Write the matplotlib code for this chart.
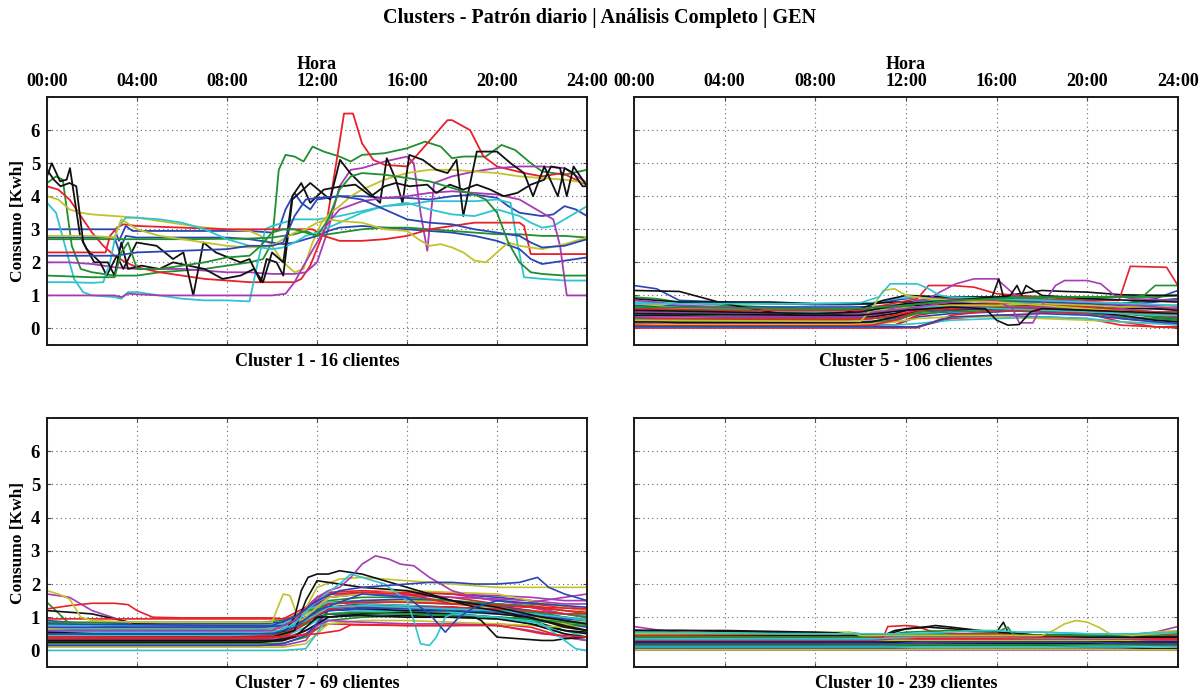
import matplotlib
matplotlib.use('Agg')
import matplotlib.pyplot as plt

plt.rcParams['font.family'] = ['Liberation Serif', 'DejaVu Serif']
plt.rcParams['font.weight'] = 'bold'

# line colours, cycled the old b g r c m y k way
COLORS = ['#2b45b5', '#1f8f2f', '#e8202a', '#2ec4d0', '#a83bb5', '#c2c22a', '#111111']
NAMED = {'b': COLORS[0], 'g': COLORS[1], 'r': COLORS[2], 'c': COLORS[3],
         'm': COLORS[4], 'y': COLORS[5], 'k': COLORS[6]}

title_text = u"Clusters - Patrón diario | Análisis Completo | GEN"
hour_ticks = [0, 4, 8, 12, 16, 20, 24]
hour_labels = ['00:00', '04:00', '08:00', '12:00', '16:00', '20:00', '24:00']
kwh_ticks = [0, 1, 2, 3, 4, 5, 6]
cluster_names = ['Cluster 1 - 16 clientes', 'Cluster 5 - 106 clientes',
                 'Cluster 7 - 69 clientes', 'Cluster 10 - 239 clientes']

# ---------------- Cluster 1 : (horas, consumo) por cliente ----------------
c1_lines = [
  ([0, 2, 3, 3.2, 3.5, 3.8, 6, 8, 9, 10, 10.3, 10.6, 11, 11.3, 11.7, 12, 13, 14, 15, 16, 17, 18, 19, 20, 20.5, 21, 22, 22.5, 23, 23.5, 24],
   [3.0, 3.0, 3.0, 2.65, 3.1, 2.95, 2.95, 2.95, 2.95, 2.9, 3.0, 3.6, 4.1, 3.8, 3.6, 3.9, 4.0, 4.0, 3.95, 3.95, 3.9, 4.0, 4.05, 3.95, 3.7, 3.5, 3.4, 3.45, 3.7, 3.6, 3.4]),
  ([0, 0.4, 0.7, 1.1, 1.5, 2, 3, 4, 5, 6, 7, 8, 9, 9.6, 10.0, 10.3, 10.6, 11, 11.4, 11.8, 12.3, 13, 13.5, 14, 15, 16, 16.8, 17.5, 18, 18.5, 19.5, 20.2, 20.8, 21.5, 22, 23, 24],
   [4.4, 4.6, 4.5, 2.5, 1.8, 1.7, 1.6, 1.6, 1.7, 1.75, 1.8, 1.9, 2.0, 2.1, 2.6, 4.8, 5.25, 5.2, 5.05, 5.5, 5.35, 5.2, 5.05, 5.25, 5.3, 5.45, 5.65, 5.5, 5.15, 5.2, 5.2, 5.55, 5.4, 5.0, 4.75, 4.65, 4.8]),
  ([0, 0.5, 1, 1.5, 2, 2.5, 3, 3.5, 4, 5, 6, 7, 8, 9, 10, 11, 11.3, 11.7, 12.4, 12.9, 13.2, 13.6, 14.0, 14.5, 15, 16, 16.9, 17.8, 18.0, 18.8, 19.4, 20.0, 21.2, 22, 22.9, 23.8, 24],
   [4.3, 4.2, 3.9, 3.4, 2.9, 2.5, 2.2, 2.0, 1.85, 1.7, 1.6, 1.5, 1.45, 1.4, 1.4, 1.4, 1.5, 1.9, 3.1, 5.2, 6.5, 6.5, 5.6, 5.1, 4.95, 4.9, 5.6, 6.3, 6.3, 6.0, 5.2, 4.9, 4.7, 4.6, 4.7, 4.4, 4.35]),
  ([0, 0.4, 0.8, 1.2, 1.6, 2, 3, 3.3, 3.6, 4, 5, 6, 7, 8, 9.0, 9.3, 9.7, 10, 11, 12, 13, 14, 15, 16, 17, 18, 19, 20, 20.6, 20.9, 21.2, 22, 23, 24],
   [3.8, 3.5, 2.5, 1.5, 1.1, 1.0, 0.95, 0.9, 1.1, 1.1, 1.0, 0.9, 0.85, 0.85, 0.82, 1.8, 3.0, 3.1, 3.3, 3.3, 3.4, 3.55, 3.7, 3.75, 3.85, 3.85, 3.85, 3.9, 3.8, 2.6, 1.55, 1.5, 1.45, 1.45]),
  ([0, 1, 2, 3, 4, 5, 6, 7, 8, 9, 10, 11, 11.5, 12, 12.5, 13, 13.5, 14, 15, 16, 16.3, 16.6, 16.9, 17.2, 17.6, 18, 19, 20, 21, 22, 23, 24],
   [2.0, 2.0, 1.95, 1.85, 1.8, 1.8, 1.8, 1.75, 1.7, 1.7, 1.65, 1.65, 1.7, 2.0, 3.0, 4.3, 4.8, 4.85, 5.05, 5.2, 5.0, 3.5, 2.35, 4.4, 4.5, 4.6, 4.75, 4.85, 4.9, 4.9, 4.85, 4.4]),
  ([0, 0.5, 1, 1.5, 2, 3, 4, 5, 6, 7, 8, 9, 9.5, 10, 10.5, 11, 11.4, 11.8, 12.2, 12.6, 13, 13.5, 14, 15, 16, 17, 18, 19, 20, 21, 22, 23, 24],
   [4.0, 3.9, 3.6, 3.5, 3.45, 3.4, 3.35, 3.25, 3.15, 3.05, 3.0, 2.95, 2.8, 2.5, 2.0, 1.7, 1.8, 2.6, 3.2, 3.5, 3.7, 4.0, 4.2, 4.5, 4.7, 4.8, 4.8, 4.75, 4.7, 4.6, 4.55, 4.5, 4.4]),
  ([0, 0.21, 0.58, 0.87, 1.02, 1.47, 1.76, 2.36, 2.65, 3.1, 3.39, 3.98, 4.87, 5.6, 6.06, 6.5, 6.95, 7.5, 8.6, 9.0, 9.5, 9.76, 10.2, 10.5, 10.9, 11.7, 12.58, 13.02, 13.47, 14.5, 14.8, 15.1, 15.5, 15.8, 16.1, 16.7, 17.3, 17.8, 18.2, 18.5, 19.1, 20.0, 20.6, 21.2, 21.6, 22.1, 22.7, 23.0, 23.4, 23.8, 24],
   [4.6, 5.0, 4.45, 4.5, 4.85, 2.8, 2.4, 2.0, 1.6, 2.2, 1.8, 2.6, 2.5, 2.1, 2.3, 1.0, 2.6, 2.3, 2.0, 2.1, 1.4, 2.1, 2.0, 1.6, 3.9, 4.4, 3.9, 5.1, 4.7, 4.0, 3.8, 5.15, 4.5, 3.8, 5.25, 5.1, 4.8, 4.7, 5.1, 3.4, 5.35, 5.35, 5.0, 4.7, 4.0, 4.9, 4.0, 4.85, 4.7, 4.3, 4.3]),
  ([0, 3, 3.2, 3.5, 4, 6, 8, 9, 10, 10.5, 11, 11.5, 12, 12.5, 13, 14, 15, 16, 17, 18, 19, 20, 21, 21.5, 22, 23, 24],
   [2.75, 2.75, 2.35, 2.8, 2.75, 2.75, 2.75, 2.7, 2.6, 2.55, 2.6, 2.7, 2.8, 2.95, 3.05, 3.1, 3.05, 3.0, 2.95, 2.9, 2.8, 2.65, 2.4, 2.1, 1.95, 2.05, 2.15]),
  ([0, 3, 6, 9, 10, 11, 11.5, 12, 13, 14, 15, 16, 17, 18, 19, 20, 21, 22, 23, 24],
   [2.7, 2.7, 2.7, 2.72, 2.75, 2.85, 2.95, 2.8, 2.9, 3.0, 3.05, 3.05, 3.0, 2.95, 2.9, 2.85, 2.85, 2.8, 2.8, 2.75]),
  ([0, 2.6, 2.8, 3.1, 3.4, 4, 6, 8, 10, 11, 11.8, 12.3, 13, 14, 15, 16, 16.5, 17, 18, 19, 20, 21, 21.2, 21.5, 24],
   [2.3, 2.3, 2.8, 3.05, 3.15, 3.1, 3.05, 3.0, 3.0, 3.0, 3.0, 2.8, 2.65, 2.65, 2.7, 2.8, 2.9, 3.0, 3.1, 3.2, 3.2, 3.2, 3.1, 2.25, 2.25]),
  ([0, 1, 2, 2.5, 2.8, 3.1, 3.5, 4, 5, 6, 7, 8, 9, 10, 10.5, 11, 11.5, 12, 13, 14, 15, 16, 17, 18, 19, 20, 21, 21.5, 22, 22.5, 23, 24],
   [1.4, 1.4, 1.38, 1.4, 2.0, 3.0, 3.35, 3.35, 3.3, 3.2, 3.0, 2.7, 2.5, 2.4, 2.45, 2.6, 2.8, 2.9, 3.2, 3.5, 3.7, 3.8, 3.6, 3.45, 3.4, 3.6, 3.4, 3.2, 3.05, 3.1, 3.3, 3.7]),
  ([0, 3, 3.3, 3.6, 5, 8, 10, 10.6, 11, 11.4, 12, 12.5, 13, 14, 15, 16, 17, 18, 19, 20, 21, 21.5, 22, 22.5, 22.8, 23.1, 24],
   [1.0, 1.0, 0.95, 1.05, 1.0, 1.0, 1.0, 1.05, 1.4, 1.9, 2.6, 3.2, 3.6, 3.85, 3.95, 4.0, 4.1, 4.15, 4.1, 4.05, 3.9, 3.7, 3.5, 3.3, 2.5, 1.0, 1.0]),
  ([0, 2, 3, 3.3, 4, 5, 6, 7, 8, 9, 10, 10.5, 11, 11.5, 12, 12.5, 13, 14, 15, 16, 16.5, 17, 17.5, 18, 18.5, 19, 19.5, 20, 20.5, 21, 22, 23, 24],
   [2.8, 2.8, 2.75, 3.3, 3.0, 2.8, 2.7, 2.6, 2.5, 2.45, 2.5, 2.7, 2.9, 3.0, 3.2, 3.3, 3.25, 3.2, 3.0, 2.95, 2.7, 2.5, 2.55, 2.45, 2.3, 2.05, 2.0, 2.3, 2.6, 2.5, 2.4, 2.55, 2.75]),
  ([0, 0.3, 0.6, 1.0, 1.3, 1.61, 2.1, 2.7, 3.0, 3.3, 3.6, 4.2, 5.0, 5.6, 7.0, 7.8, 8.6, 9.2, 9.6, 10.0, 10.5, 10.9, 11.3, 11.7, 12.3, 13.1, 13.7, 14.4, 15.0, 15.5, 16.1, 16.9, 17.3, 17.9, 18.5, 19.1, 19.7, 20.3, 20.9, 21.5, 22.1, 22.4, 22.8, 23.1, 23.4, 23.8, 24],
   [4.8, 4.5, 4.3, 4.4, 4.3, 2.6, 2.0, 2.0, 1.6, 2.6, 1.8, 1.9, 1.8, 2.0, 1.8, 1.5, 1.6, 1.8, 1.4, 2.3, 2.0, 4.0, 4.4, 3.8, 4.2, 4.3, 4.35, 4.0, 4.3, 4.4, 4.3, 4.35, 4.1, 4.35, 4.2, 4.35, 4.2, 4.0, 4.1, 4.35, 4.5, 4.9, 4.85, 4.0, 4.9, 4.5, 4.3]),
  ([0, 3, 4, 6, 8, 9, 10, 10.5, 11, 11.5, 12, 13, 14, 15, 16, 17, 18, 19, 20, 21, 21.5, 22, 23, 24],
   [2.2, 2.2, 2.3, 2.35, 2.4, 2.5, 2.5, 2.6, 3.4, 3.9, 3.95, 4.0, 3.9, 3.6, 3.3, 3.2, 3.15, 3.0, 2.9, 2.8, 2.6, 2.45, 2.5, 2.7]),
  ([0, 2, 3, 3.3, 3.6, 4, 5, 6, 7, 8, 9, 9.5, 10, 10.5, 11, 11.5, 12, 12.5, 13, 13.5, 14, 15, 16, 17, 18, 19, 19.5, 20, 20.5, 21, 21.5, 22, 23, 24],
   [1.6, 1.55, 1.55, 2.3, 2.6, 1.8, 1.8, 1.9, 2.0, 2.15, 2.2, 2.5, 2.9, 3.0, 3.0, 2.9, 2.8, 3.3, 4.2, 4.6, 4.7, 4.65, 4.55, 4.45, 4.25, 4.05, 3.9, 3.5, 2.6, 2.0, 1.7, 1.65, 1.6, 1.6]),
]

# common hour grid for the crowded clusters
HOURS = [0, 1, 2, 4, 6, 8, 9.5, 10.5, 11.5, 12.5, 14, 16, 18, 20, 21.5, 23, 24]

# ---------------- Cluster 5 ----------------
c5_lines = [
  [1.3, 1.2, 0.85, 0.8, 0.75, 0.72, 0.72, 0.75, 0.85, 0.95, 0.9, 0.95, 0.85, 0.8, 0.75, 0.9, 1.15],
  [0.95, 0.9, 0.8, 0.7, 0.65, 0.6, 0.6, 0.62, 0.7, 0.85, 0.95, 0.95, 0.97, 0.95, 0.97, 1.0, 1.0],
  [0.02, 0.02, 0.02, 0.02, 0.02, 0.02, 0.02, 0.02, 0.02, 0.05, 0.3, 0.4, 0.35, 0.3, 0.1, 0.05, 0.05],
  [0.8, 0.78, 0.75, 0.75, 0.75, 0.75, 0.75, 0.78, 0.9, 0.95, 0.85, 0.8, 0.75, 0.7, 0.65, 0.6, 0.55],
  [0.3, 0.28, 0.25, 0.25, 0.25, 0.25, 0.25, 0.3, 0.6, 0.85, 0.9, 0.85, 0.7, 0.6, 0.5, 0.4, 0.35],
  [0.6, 0.55, 0.5, 0.45, 0.45, 0.45, 0.45, 0.5, 0.7, 0.8, 0.75, 0.7, 0.6, 0.55, 0.5, 0.5, 0.45],
  [0.7, 0.65, 0.6, 0.55, 0.5, 0.5, 0.5, 0.55, 0.6, 0.7, 0.75, 0.75, 0.7, 0.65, 0.6, 0.6, 0.55],
  [0.1, 0.1, 0.1, 0.1, 0.1, 0.1, 0.1, 0.1, 0.1, 0.35, 0.45, 0.5, 0.6, 0.55, 0.5, 0.45, 0.4],
  [0.45, 0.42, 0.4, 0.4, 0.4, 0.4, 0.4, 0.42, 0.55, 0.75, 0.8, 0.9, 0.9, 0.8, 0.75, 0.85, 0.9],
  [0.05, 0.05, 0.05, 0.05, 0.05, 0.05, 0.05, 0.05, 0.1, 0.4, 0.55, 0.6, 0.65, 0.6, 0.5, 0.35, 0.3],
  [0.5, 0.5, 0.5, 0.5, 0.5, 0.5, 0.5, 0.5, 0.55, 0.6, 0.7, 0.7, 0.65, 0.6, 0.55, 0.5, 0.5],
  [0.15, 0.15, 0.15, 0.15, 0.15, 0.15, 0.15, 0.15, 0.2, 0.5, 0.65, 0.7, 0.8, 0.7, 0.6, 0.5, 0.4],
  [0.35, 0.32, 0.3, 0.3, 0.3, 0.3, 0.3, 0.32, 0.4, 0.55, 0.6, 0.65, 0.6, 0.55, 0.5, 0.45, 0.4],
  [0.9, 0.85, 0.8, 0.8, 0.8, 0.75, 0.75, 0.75, 0.8, 0.8, 0.85, 0.8, 0.75, 0.7, 0.65, 0.6, 0.6],
  [0.25, 0.25, 0.22, 0.2, 0.2, 0.2, 0.2, 0.22, 0.3, 0.5, 0.55, 0.6, 0.55, 0.5, 0.35, 0.25, 0.2],
  [0.2, 0.2, 0.2, 0.2, 0.2, 0.2, 0.2, 0.2, 0.25, 0.45, 0.5, 0.55, 0.5, 0.45, 0.35, 0.3, 0.25],
  [0.02, 0.02, 0.02, 0.02, 0.02, 0.02, 0.02, 0.02, 0.02, 0.02, 0.4, 0.55, 0.5, 0.45, 0.2, 0.05, 0.02],
  [0.65, 0.62, 0.6, 0.6, 0.6, 0.6, 0.6, 0.62, 0.7, 0.8, 0.85, 0.8, 0.8, 0.75, 0.7, 0.7, 0.7],
  [0.55, 0.5, 0.45, 0.42, 0.4, 0.4, 0.4, 0.4, 0.45, 0.6, 0.65, 0.7, 0.65, 0.55, 0.3, 0.2, 0.15],
  [0.12, 0.12, 0.12, 0.12, 0.12, 0.12, 0.12, 0.14, 0.2, 0.3, 0.35, 0.35, 0.3, 0.25, 0.2, 0.15, 0.15],
  [0.4, 0.4, 0.38, 0.35, 0.35, 0.35, 0.35, 0.35, 0.45, 0.65, 0.7, 0.72, 0.7, 0.65, 0.5, 0.35, 0.3],
  [0.7, 0.7, 0.68, 0.65, 0.65, 0.65, 0.65, 0.66, 0.7, 0.75, 0.8, 0.85, 0.8, 0.75, 0.7, 0.8, 0.9],
  [0.3, 0.3, 0.3, 0.3, 0.3, 0.3, 0.3, 0.3, 0.35, 0.5, 0.6, 0.65, 0.6, 0.55, 0.45, 0.35, 0.3],
  [0.1, 0.08, 0.08, 0.08, 0.08, 0.08, 0.08, 0.1, 0.25, 0.55, 0.7, 0.75, 0.7, 0.65, 0.55, 0.5, 0.5],
  [0.05, 0.05, 0.05, 0.05, 0.05, 0.05, 0.05, 0.05, 0.1, 0.15, 0.25, 0.3, 0.35, 0.3, 0.2, 0.15, 0.1],
  [0.85, 0.8, 0.7, 0.65, 0.6, 0.58, 0.58, 0.6, 0.65, 0.75, 0.8, 0.85, 0.85, 0.8, 0.75, 0.7, 0.65],
  [0.75, 0.7, 0.6, 0.55, 0.55, 0.55, 0.55, 0.55, 0.6, 0.65, 0.7, 0.7, 0.75, 0.7, 0.65, 0.65, 0.7],
  [0.2, 0.2, 0.18, 0.18, 0.18, 0.18, 0.18, 0.2, 0.35, 0.55, 0.6, 0.6, 0.55, 0.5, 0.4, 0.25, 0.2],
  [0.05, 0.05, 0.05, 0.05, 0.05, 0.05, 0.05, 0.05, 0.05, 0.05, 0.35, 0.4, 0.45, 0.4, 0.3, 0.2, 0.15],
  [0.6, 0.58, 0.55, 0.55, 0.55, 0.55, 0.55, 0.58, 0.65, 0.75, 0.8, 0.85, 0.85, 0.9, 0.95, 0.95, 1.0],
  [0.35, 0.3, 0.28, 0.28, 0.28, 0.28, 0.28, 0.3, 0.4, 0.55, 0.6, 0.62, 0.6, 0.55, 0.5, 0.45, 0.4],
  [0.45, 0.45, 0.45, 0.45, 0.45, 0.45, 0.45, 0.48, 0.55, 0.65, 0.65, 0.6, 0.55, 0.5, 0.45, 0.4, 0.4],
]
c5_extra = [
  ([0, 2, 4, 6, 7, 8, 9, 10, 11, 12, 14, 16, 17, 18, 19, 20, 21.5, 23, 24],
   [1.15, 1.12, 0.75, 0.5, 0.4, 0.38, 0.42, 0.6, 0.85, 1.0, 0.95, 0.95, 1.05, 1.15, 1.12, 1.1, 1.02, 1.0, 1.0]),
  ([0, 4, 8, 10, 11, 12.5, 13, 14, 15, 16, 18, 20, 21.4, 21.9, 23.5, 24],
   [0.6, 0.55, 0.55, 0.55, 0.7, 0.9, 1.3, 1.3, 1.25, 1.05, 0.95, 0.85, 0.85, 1.88, 1.85, 1.3]),
  ([0, 8, 10, 11, 12, 13, 13.5, 14.2, 15, 16, 16.5, 17, 18, 20, 22, 24],
   [0.35, 0.35, 0.35, 0.5, 0.75, 0.9, 1.1, 1.35, 1.5, 1.5, 1.2, 0.9, 0.85, 0.8, 0.7, 0.6]),
  ([0, 8, 10, 12, 14, 16, 16.7, 17, 17.6, 18, 18.6, 19, 20, 20.6, 21.2, 22, 24],
   [0.5, 0.45, 0.45, 0.6, 0.8, 0.85, 0.6, 0.17, 0.17, 0.7, 1.3, 1.45, 1.45, 1.35, 1.0, 0.9, 0.85]),
  ([0, 8, 10, 10.5, 11, 11.5, 12, 13, 14, 16, 18, 20, 22, 24],
   [0.25, 0.22, 0.22, 0.6, 1.15, 1.2, 1.0, 0.9, 0.85, 0.8, 0.7, 0.6, 0.5, 0.45]),
  ([0, 8, 10, 10.8, 11.3, 12.5, 13, 13.5, 14, 16, 18, 20, 22, 24],
   [0.75, 0.75, 0.78, 0.95, 1.35, 1.35, 1.2, 1.0, 0.95, 0.9, 0.85, 0.8, 0.75, 0.7]),
  ([0, 8, 10, 12, 14, 15, 15.8, 16.1, 16.3, 16.6, 16.9, 17.1, 17.3, 18, 20, 22, 24],
   [0.55, 0.45, 0.5, 0.75, 0.85, 0.9, 0.95, 1.5, 0.95, 1.0, 1.3, 1.0, 1.3, 1.0, 0.9, 0.85, 0.8]),
  ([0, 8, 10, 12, 14, 15.5, 16, 16.5, 17, 17.5, 18, 20, 22, 24],
   [0.45, 0.4, 0.4, 0.55, 0.65, 0.6, 0.25, 0.1, 0.12, 0.5, 0.6, 0.55, 0.5, 0.45]),
  ([0, 8, 10, 12, 14, 16, 18, 20, 22, 22.5, 23, 24],
   [0.65, 0.6, 0.6, 0.7, 0.85, 0.9, 0.95, 0.95, 0.95, 1.0, 1.3, 1.3]),
]
c5_extra_colors = ['k', 'r', 'm', 'm', 'y', 'c', 'k', 'k', 'g']

# ---------------- Cluster 7 ----------------
c7_lines = [
  [0.9, 0.85, 0.8, 0.8, 0.8, 0.8, 0.8, 0.85, 1.2, 1.6, 1.7, 1.8, 1.7, 1.6, 1.5, 1.3, 1.2],
  [1.45, 0.8, 0.75, 0.7, 0.7, 0.7, 0.7, 0.75, 1.1, 1.45, 1.5, 1.45, 1.4, 1.3, 1.2, 1.0, 0.9],
  [0.6, 0.6, 0.6, 0.55, 0.55, 0.55, 0.55, 0.6, 0.9, 1.6, 1.75, 1.7, 1.6, 1.4, 1.3, 1.1, 1.0],
  [0.35, 0.35, 0.35, 0.35, 0.35, 0.35, 0.35, 0.4, 0.7, 1.1, 1.2, 1.15, 1.1, 1.0, 0.9, 0.6, 0.4],
  [1.7, 1.6, 1.2, 0.75, 0.7, 0.7, 0.7, 0.75, 1.1, 1.6, 1.7, 1.75, 1.7, 1.65, 1.6, 1.5, 1.5],
  [0.5, 0.5, 0.5, 0.45, 0.45, 0.45, 0.45, 0.5, 1.0, 1.3, 1.35, 1.3, 1.2, 1.1, 1.0, 0.9, 0.85],
  [1.2, 1.15, 1.1, 0.8, 0.75, 0.75, 0.75, 0.8, 1.0, 1.3, 1.4, 1.35, 1.3, 1.2, 0.9, 0.6, 0.5],
  [0.3, 0.3, 0.3, 0.3, 0.3, 0.3, 0.3, 0.3, 0.5, 1.0, 1.1, 1.1, 1.05, 1.0, 0.95, 0.8, 0.7],
  [0.2, 0.2, 0.2, 0.2, 0.2, 0.2, 0.2, 0.22, 0.4, 0.9, 1.0, 1.05, 1.0, 0.95, 0.9, 0.8, 0.75],
  [0.95, 0.95, 0.95, 0.95, 0.95, 0.95, 0.95, 0.95, 1.3, 1.75, 1.8, 1.75, 1.7, 1.5, 1.4, 1.3, 1.25],
  [0.65, 0.65, 0.65, 0.65, 0.65, 0.65, 0.65, 0.7, 1.1, 1.3, 1.25, 1.2, 1.15, 1.1, 1.05, 1.0, 0.95],
  [0.15, 0.15, 0.15, 0.15, 0.15, 0.15, 0.15, 0.15, 0.3, 1.2, 1.5, 1.5, 1.45, 1.4, 1.3, 1.1, 1.0],
  [0.8, 0.8, 0.8, 0.75, 0.75, 0.75, 0.75, 0.8, 1.1, 1.4, 1.5, 1.5, 1.45, 1.3, 1.1, 0.8, 0.6],
  [0.45, 0.45, 0.45, 0.45, 0.45, 0.45, 0.45, 0.5, 0.9, 1.1, 1.1, 1.05, 1.0, 0.95, 0.8, 0.6, 0.55],
  [0.55, 0.55, 0.55, 0.55, 0.55, 0.55, 0.55, 0.6, 1.0, 1.4, 1.5, 1.55, 1.5, 1.35, 1.2, 0.9, 0.8],
  [0.4, 0.4, 0.4, 0.4, 0.4, 0.4, 0.4, 0.45, 0.8, 1.5, 1.6, 1.6, 1.5, 1.4, 1.35, 1.2, 1.1],
  [0.25, 0.25, 0.25, 0.25, 0.25, 0.25, 0.25, 0.3, 0.5, 0.8, 0.78, 0.75, 0.75, 0.8, 0.7, 0.4, 0.3],
  [0.75, 0.75, 0.75, 0.75, 0.75, 0.75, 0.75, 0.8, 1.2, 1.45, 1.4, 1.35, 1.3, 1.2, 1.15, 1.1, 1.05],
  [0.5, 0.5, 0.5, 0.5, 0.5, 0.5, 0.5, 0.55, 1.2, 1.7, 1.7, 1.65, 1.6, 1.55, 1.5, 1.4, 1.4],
  [0.1, 0.1, 0.1, 0.1, 0.1, 0.1, 0.1, 0.1, 0.2, 0.8, 0.9, 0.9, 0.85, 0.8, 0.75, 0.7, 0.6],
  [0.6, 0.6, 0.6, 0.6, 0.6, 0.6, 0.6, 0.65, 0.9, 1.2, 1.25, 1.2, 1.2, 1.1, 1.0, 0.7, 0.6],
  [0.7, 0.7, 0.7, 0.7, 0.7, 0.7, 0.7, 0.75, 1.0, 1.2, 1.25, 1.3, 1.3, 1.2, 1.1, 1.0, 0.9],
  [0.85, 0.85, 0.85, 0.85, 0.85, 0.85, 0.85, 0.9, 1.2, 1.3, 1.35, 1.3, 1.25, 1.2, 1.15, 1.1, 1.0],
  [0.35, 0.35, 0.35, 0.35, 0.35, 0.35, 0.35, 0.4, 0.8, 1.4, 1.45, 1.45, 1.4, 1.35, 1.3, 1.2, 1.15],
  [0.0, 0.0, 0.0, 0.0, 0.0, 0.0, 0.0, 0.0, 0.05, 1.0, 1.1, 1.1, 1.05, 1.0, 0.9, 0.5, 0.3],
  [0.3, 0.3, 0.3, 0.3, 0.3, 0.3, 0.3, 0.35, 0.6, 0.9, 0.85, 0.8, 0.8, 0.75, 0.6, 0.4, 0.3],
  [0.65, 0.6, 0.6, 0.6, 0.6, 0.6, 0.6, 0.65, 1.0, 1.6, 1.7, 1.8, 1.75, 1.7, 1.5, 1.3, 1.2],
  [0.25, 0.25, 0.25, 0.25, 0.25, 0.25, 0.25, 0.3, 0.6, 1.0, 1.1, 1.15, 1.1, 1.0, 0.8, 0.5, 0.4],
  [0.15, 0.15, 0.15, 0.15, 0.15, 0.15, 0.15, 0.2, 0.45, 1.2, 1.3, 1.25, 1.2, 1.15, 1.05, 0.95, 0.9],
  [0.5, 0.5, 0.5, 0.5, 0.5, 0.5, 0.5, 0.55, 0.8, 1.1, 1.15, 1.1, 1.05, 1.0, 0.95, 0.85, 0.8],
  [0.45, 0.45, 0.45, 0.45, 0.45, 0.45, 0.45, 0.5, 0.85, 1.25, 1.35, 1.3, 1.3, 1.25, 1.2, 1.1, 1.1],
  [0.55, 0.55, 0.55, 0.55, 0.55, 0.55, 0.55, 0.6, 0.9, 1.3, 1.35, 1.3, 1.25, 1.2, 1.1, 1.0, 0.9],
]
c7_extra = [
  ([0, 1, 2, 3, 3.6, 4, 4.7, 6, 8, 10, 10.5, 11, 11.5, 12, 12.5, 14, 16, 18, 20, 22, 24],
   [1.25, 1.35, 1.42, 1.42, 1.38, 1.2, 1.0, 0.98, 0.98, 0.98, 0.95, 1.0, 1.3, 1.6, 1.7, 1.75, 1.7, 1.4, 1.35, 1.3, 1.25]),
  ([0, 0.5, 1, 1.5, 2, 4, 6, 8, 10, 10.2, 10.5, 10.8, 11.2, 12, 13, 14, 16, 18, 20, 22, 24],
   [1.8, 1.7, 1.55, 1.0, 0.9, 0.85, 0.85, 0.85, 0.85, 1.2, 1.7, 1.65, 0.9, 1.9, 2.15, 2.2, 2.1, 2.0, 1.9, 1.9, 1.9]),
  ([0, 2, 4, 6, 8, 10, 10.6, 11, 11.3, 11.6, 12, 12.5, 13, 14, 15, 16, 17, 18, 19, 20, 22, 24],
   [0.55, 0.5, 0.5, 0.5, 0.5, 0.5, 0.6, 1.0, 1.8, 2.2, 2.3, 2.3, 2.4, 2.3, 2.1, 1.9, 1.7, 1.5, 1.3, 1.2, 0.9, 0.6]),
  ([0, 8, 10, 11, 12, 14, 16, 18, 19, 19.3, 20, 21, 22, 22.5, 23, 24],
   [0.3, 0.3, 0.3, 0.4, 1.0, 1.05, 1.0, 1.0, 1.0, 0.9, 0.4, 0.35, 0.3, 0.3, 0.35, 0.4]),
  ([0, 8, 10, 11, 11.5, 12, 12.5, 14, 16, 18, 20, 22, 24],
   [0.45, 0.4, 0.4, 0.6, 1.5, 2.1, 2.05, 1.9, 1.8, 1.5, 1.3, 1.0, 0.8]),
  ([0, 8, 10, 11, 12, 12.5, 13, 13.5, 14, 14.6, 15.2, 15.7, 16.3, 17, 18, 19, 20, 21, 22, 23, 24],
   [0.6, 0.6, 0.6, 0.9, 1.6, 1.8, 1.9, 2.2, 2.6, 2.85, 2.75, 2.6, 2.55, 2.2, 1.8, 1.6, 1.5, 1.4, 1.5, 1.6, 1.7]),
  ([0, 8, 10, 11, 12, 13, 13.5, 14, 15, 16, 16.3, 16.6, 17, 17.3, 17.7, 18, 20, 22, 23, 23.5, 24],
   [0.45, 0.45, 0.5, 0.8, 1.5, 2.0, 2.3, 2.2, 2.0, 1.5, 0.9, 0.2, 0.15, 0.4, 1.0, 1.1, 1.0, 0.8, 0.3, 0.05, 0.0]),
  ([0, 8, 10, 11, 12, 13, 14, 16, 17, 18, 19, 20, 21, 21.8, 22.3, 23, 24],
   [0.8, 0.75, 0.75, 1.0, 1.5, 1.8, 1.9, 2.0, 2.05, 2.05, 2.0, 2.0, 2.05, 2.2, 1.9, 1.7, 1.5]),
  ([0, 8, 10, 11, 12, 14, 16, 17, 17.7, 18.3, 19, 20, 22, 24],
   [0.5, 0.5, 0.5, 0.7, 1.2, 1.7, 1.6, 1.1, 0.55, 1.0, 1.3, 1.5, 1.4, 1.3]),
  ([0, 8, 10, 11, 12, 13, 13.5, 16, 18, 20, 20.5, 22, 24],
   [0.4, 0.4, 0.4, 0.45, 0.5, 0.6, 0.77, 0.75, 0.75, 0.75, 0.7, 0.5, 0.4]),
]
c7_extra_colors = ['r', 'y', 'k', 'k', 'k', 'm', 'c', 'b', 'b', 'r']

# ---------------- Cluster 10 ----------------
c10_lines = [
  [0.55, 0.55, 0.52, 0.5, 0.5, 0.48, 0.48, 0.48, 0.45, 0.45, 0.45, 0.45, 0.45, 0.45, 0.45, 0.5, 0.55],
  [0.62, 0.55, 0.5, 0.45, 0.45, 0.45, 0.45, 0.45, 0.4, 0.4, 0.4, 0.4, 0.42, 0.42, 0.45, 0.5, 0.5],
  [0.2, 0.2, 0.2, 0.2, 0.2, 0.2, 0.2, 0.2, 0.25, 0.3, 0.3, 0.3, 0.3, 0.3, 0.3, 0.3, 0.25],
  [0.45, 0.45, 0.45, 0.45, 0.45, 0.45, 0.45, 0.45, 0.45, 0.5, 0.5, 0.5, 0.45, 0.45, 0.45, 0.45, 0.5],
  [0.72, 0.62, 0.55, 0.5, 0.45, 0.4, 0.4, 0.4, 0.4, 0.4, 0.4, 0.4, 0.4, 0.4, 0.45, 0.55, 0.72],
  [0.5, 0.5, 0.52, 0.55, 0.55, 0.55, 0.55, 0.45, 0.4, 0.4, 0.35, 0.35, 0.35, 0.35, 0.4, 0.55, 0.6],
  [0.6, 0.6, 0.6, 0.58, 0.55, 0.5, 0.45, 0.4, 0.35, 0.35, 0.3, 0.3, 0.3, 0.3, 0.3, 0.3, 0.3],
  [0.35, 0.35, 0.36, 0.35, 0.34, 0.35, 0.35, 0.35, 0.36, 0.38, 0.37, 0.36, 0.35, 0.35, 0.34, 0.35, 0.35],
  [0.3, 0.3, 0.3, 0.3, 0.3, 0.3, 0.3, 0.3, 0.35, 0.4, 0.4, 0.4, 0.45, 0.4, 0.35, 0.3, 0.3],
  [0.1, 0.1, 0.1, 0.1, 0.1, 0.1, 0.1, 0.1, 0.15, 0.2, 0.25, 0.25, 0.25, 0.2, 0.2, 0.15, 0.1],
  [0.25, 0.25, 0.25, 0.25, 0.25, 0.25, 0.25, 0.25, 0.25, 0.3, 0.3, 0.3, 0.3, 0.3, 0.3, 0.3, 0.3],
  [0.15, 0.15, 0.15, 0.15, 0.15, 0.15, 0.15, 0.15, 0.2, 0.2, 0.2, 0.2, 0.2, 0.2, 0.2, 0.2, 0.15],
  [0.05, 0.05, 0.05, 0.05, 0.05, 0.05, 0.05, 0.05, 0.05, 0.1, 0.1, 0.1, 0.1, 0.1, 0.1, 0.05, 0.05],
  [0.2, 0.2, 0.21, 0.2, 0.2, 0.19, 0.2, 0.2, 0.22, 0.24, 0.23, 0.22, 0.2, 0.2, 0.2, 0.2, 0.2],
  [0.05, 0.05, 0.05, 0.05, 0.05, 0.05, 0.05, 0.05, 0.05, 0.05, 0.05, 0.05, 0.05, 0.05, 0.05, 0.05, 0.05],
  [0.4, 0.4, 0.4, 0.4, 0.4, 0.4, 0.4, 0.4, 0.4, 0.45, 0.45, 0.45, 0.45, 0.45, 0.4, 0.4, 0.4],
  [0.3, 0.3, 0.3, 0.3, 0.3, 0.3, 0.3, 0.3, 0.35, 0.35, 0.35, 0.35, 0.35, 0.35, 0.35, 0.35, 0.3],
  [0.5, 0.5, 0.5, 0.48, 0.45, 0.45, 0.45, 0.45, 0.45, 0.5, 0.5, 0.55, 0.55, 0.5, 0.5, 0.5, 0.5],
  [0.3, 0.3, 0.3, 0.3, 0.3, 0.3, 0.3, 0.3, 0.3, 0.3, 0.35, 0.35, 0.35, 0.35, 0.3, 0.3, 0.3],
  [0.25, 0.25, 0.25, 0.25, 0.25, 0.25, 0.25, 0.25, 0.3, 0.3, 0.3, 0.3, 0.3, 0.3, 0.3, 0.25, 0.25],
  [0.1, 0.1, 0.1, 0.1, 0.1, 0.1, 0.1, 0.1, 0.1, 0.15, 0.15, 0.15, 0.15, 0.1, 0.1, 0.05, 0.05],
  [0.45, 0.45, 0.45, 0.45, 0.42, 0.42, 0.42, 0.42, 0.42, 0.42, 0.42, 0.42, 0.42, 0.42, 0.42, 0.42, 0.42],
  [0.15, 0.15, 0.15, 0.15, 0.15, 0.15, 0.15, 0.15, 0.15, 0.15, 0.15, 0.15, 0.15, 0.15, 0.15, 0.15, 0.15],
  [0.4, 0.4, 0.4, 0.4, 0.4, 0.4, 0.4, 0.4, 0.4, 0.35, 0.35, 0.35, 0.35, 0.35, 0.35, 0.35, 0.35],
  [0.35, 0.35, 0.35, 0.35, 0.35, 0.35, 0.35, 0.35, 0.38, 0.4, 0.4, 0.4, 0.38, 0.38, 0.38, 0.4, 0.45],
  [0.0, 0.0, 0.0, 0.0, 0.0, 0.0, 0.0, 0.0, 0.0, 0.0, 0.0, 0.0, 0.0, 0.0, 0.0, 0.0, 0.0],
  [0.02, 0.02, 0.02, 0.02, 0.02, 0.02, 0.02, 0.02, 0.02, 0.03, 0.03, 0.03, 0.03, 0.03, 0.02, 0.02, 0.02],
  [0.25, 0.25, 0.25, 0.25, 0.25, 0.25, 0.25, 0.25, 0.25, 0.25, 0.25, 0.25, 0.25, 0.25, 0.25, 0.25, 0.25],
  [0.2, 0.2, 0.2, 0.2, 0.2, 0.2, 0.2, 0.2, 0.2, 0.25, 0.25, 0.25, 0.25, 0.25, 0.2, 0.2, 0.2],
  [0.5, 0.5, 0.5, 0.5, 0.5, 0.5, 0.5, 0.5, 0.5, 0.5, 0.5, 0.45, 0.45, 0.45, 0.45, 0.5, 0.55],
  [0.45, 0.45, 0.45, 0.45, 0.45, 0.45, 0.45, 0.45, 0.45, 0.42, 0.42, 0.42, 0.4, 0.4, 0.4, 0.42, 0.45],
  [0.1, 0.1, 0.1, 0.1, 0.1, 0.1, 0.1, 0.1, 0.1, 0.1, 0.1, 0.1, 0.1, 0.1, 0.1, 0.1, 0.1],
]
c10_extra = [
  ([0, 8, 10, 11, 11.2, 12, 12.5, 13, 14, 16, 18, 20, 22, 24],
   [0.4, 0.4, 0.4, 0.4, 0.72, 0.75, 0.72, 0.6, 0.5, 0.5, 0.45, 0.4, 0.4, 0.4]),
  ([0, 4, 8, 10, 10.8, 11, 11.5, 12, 13, 13.3, 14, 15, 16, 16.3, 16.5, 17, 18, 20, 22, 24],
   [0.6, 0.6, 0.55, 0.5, 0.45, 0.45, 0.55, 0.65, 0.72, 0.75, 0.7, 0.62, 0.55, 0.85, 0.55, 0.5, 0.45, 0.45, 0.4, 0.4]),
  ([0, 8, 10, 11, 11.5, 12, 13, 14, 16, 17, 18, 20, 24],
   [0.5, 0.45, 0.45, 0.45, 0.6, 0.65, 0.7, 0.65, 0.55, 0.5, 0.45, 0.4, 0.4]),
  ([0, 8, 10, 11, 12, 14, 16, 16.5, 16.7, 17, 18, 20, 22, 24],
   [0.4, 0.4, 0.4, 0.45, 0.55, 0.6, 0.55, 0.7, 0.5, 0.45, 0.45, 0.45, 0.45, 0.5]),
  ([0, 4, 8, 9, 9.5, 10, 11, 12, 14, 16, 18, 18.5, 19, 19.5, 20, 20.5, 21, 22, 24],
   [0.5, 0.5, 0.5, 0.5, 0.55, 0.45, 0.45, 0.45, 0.45, 0.45, 0.45, 0.6, 0.8, 0.9, 0.85, 0.7, 0.5, 0.45, 0.55]),
  ([0, 8, 10, 12, 14, 15, 16, 17, 18, 20, 22, 24],
   [0.55, 0.5, 0.5, 0.5, 0.55, 0.6, 0.6, 0.55, 0.55, 0.5, 0.5, 0.55]),
]
c10_extra_colors = ['r', 'k', 'k', 'g', 'y', 'c']


fig = plt.figure(figsize=(12, 6.91), dpi=100)
fig.text(0.5, 0.974, title_text, ha='center', va='center', fontsize=14.5, fontweight='bold')

# [left, bottom, width, height] of the 2x2 grid
boxes = [[0.0392, 0.5007, 0.4500, 0.3589],
         [0.5283, 0.5007, 0.4533, 0.3589],
         [0.0392, 0.0347, 0.4500, 0.3603],
         [0.5283, 0.0347, 0.4533, 0.3603]]

panels = [(c1_lines, None, None), (c5_lines, c5_extra, c5_extra_colors),
          (c7_lines, c7_extra, c7_extra_colors), (c10_lines, c10_extra, c10_extra_colors)]

for i, (lines, extra, extra_colors) in enumerate(panels):
  ax = fig.add_axes(boxes[i])
  if i == 0:
    for j, (h, v) in enumerate(lines):
      ax.plot(h, v, color=COLORS[j % 7], linewidth=1.3)
  else:
    for j, v in enumerate(lines):
      ax.plot(HOURS, v, color=COLORS[j % 7], linewidth=1.2)
    for (h, v), c in zip(extra, extra_colors):
      ax.plot(h, v, color=NAMED[c], linewidth=1.2)

  ax.set_xlim(0, 24)
  ax.set_ylim(-0.5, 7)
  ax.set_xticks(hour_ticks)
  ax.set_yticks(kwh_ticks)
  ax.grid(True, color='0.4', linestyle=(0, (1, 3)), linewidth=0.8)
  ax.tick_params(direction='in', length=3, width=0.8, colors='0.3',
                 top=True, right=True, labelsize=13)
  for s in ax.spines.values():
    s.set_linewidth(1.4)
    s.set_color('0.1')

  # horas arriba solo en la fila superior
  if i < 2:
    ax.xaxis.set_ticks_position('both')
    ax.tick_params(labeltop=True, labelbottom=False, pad=5, axis='x')
    ax.set_xticklabels(hour_labels, fontweight='bold', color='black', fontsize=13)
    ax.text(0.5, 1.0 + 33.0 / 248, 'Hora', transform=ax.transAxes,
            ha='center', va='center', fontsize=13, fontweight='bold')
  else:
    ax.tick_params(labelbottom=False, axis='x')

  if i % 2 == 0:
    ax.tick_params(axis='y', pad=5)
    ax.set_yticklabels([str(t) for t in kwh_ticks], fontweight='bold', color='black', fontsize=13.5)
    ax.text(-29.0 / 540, 0.5, 'Consumo [Kwh]', transform=ax.transAxes, rotation=90,
            ha='center', va='center', fontsize=12.5, fontweight='bold')
  else:
    ax.tick_params(labelleft=False, axis='y')

  ax.text(0.5, -16.0 / 248, cluster_names[i], transform=ax.transAxes,
          ha='center', va='center', fontsize=13, fontweight='bold')

plt.savefig('out.png', dpi=100)
